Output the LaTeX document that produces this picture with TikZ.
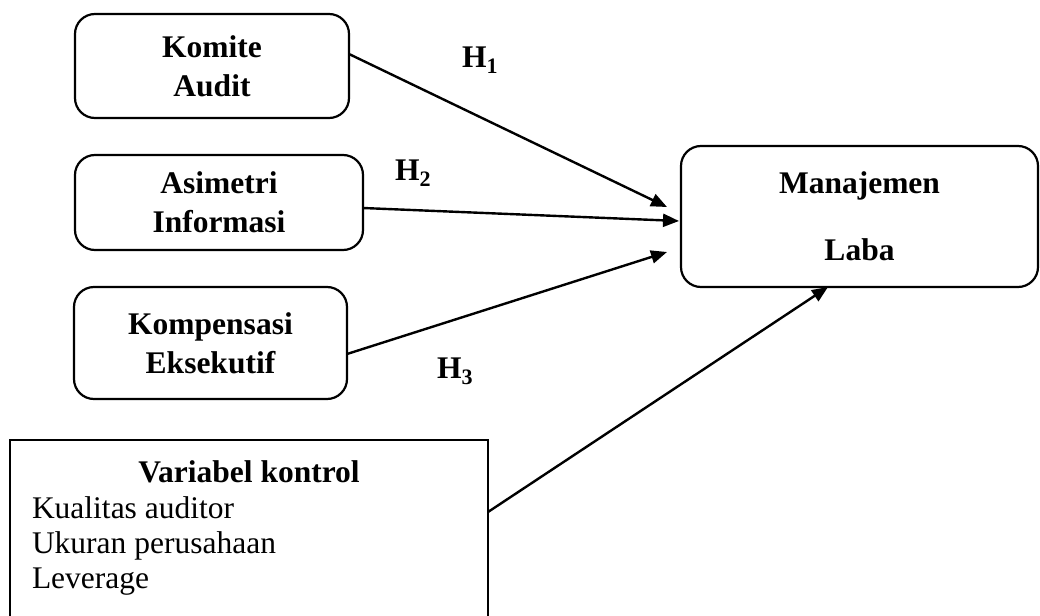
\documentclass[tikz,border=0pt]{standalone}
\usepackage{fontspec}
\setmainfont{Liberation Serif}
\usetikzlibrary{arrows.meta}
\begin{document}
\begin{tikzpicture}[x=1pt,y=-1pt,
  every node/.style={inner sep=0pt, outer sep=0pt},
  rbox/.style={draw, line width=2.2pt, rounded corners=20pt, align=center,
    font=\fontsize{31.5}{39}\selectfont\bfseries},
  lbl/.style={font=\fontsize{31.5}{39}\selectfont\bfseries, anchor=base west},
  plain/.style={font=\fontsize{31.5}{35}\selectfont, anchor=base west},
  arr/.style={line width=2.4pt, -{Triangle[length=16pt,width=13pt]}}]
\useasboundingbox (0,0) rectangle (1040,615);

\node[rbox, minimum width=274pt, minimum height=104pt] (komite) at (212,66) {Komite\\Audit};
\node[rbox, minimum width=288pt, minimum height=95pt] (asim) at (219,202.5) {Asimetri\\Informasi};
\node[rbox, minimum width=273pt, minimum height=112pt] (komp) at (210.5,343) {Kompensasi\\Eksekutif};
\node[rbox, minimum width=357pt, minimum height=141pt] (mj) at (859.5,216.5) {Manajemen\\[28pt]Laba};
\node[draw, line width=2.2pt, minimum width=478pt, minimum height=177pt] (var) at (249,528.5) {};

\node[font=\fontsize{31.5}{39}\selectfont\bfseries, anchor=base] (vt) at (249,482) {Variabel kontrol};
\node[plain] (v1) at (32,518) {Kualitas auditor};
\node[plain] (v2) at (32,553) {Ukuran perusahaan};
\node[plain] (v3) at (32,588) {Leverage};

\node[lbl] (h1) at (462,68) {H\textsubscript{1}};
\node[lbl] (h2) at (395,180) {H\textsubscript{2}};
\node[lbl] (h3) at (437,378) {H\textsubscript{3}};

\draw[arr] ([yshift=12pt]komite.east) -- ([xshift=-14pt,yshift=9.5pt]mj.west);
\draw[arr] ([yshift=-5.5pt]asim.east) -- ([xshift=-2pt,yshift=-4.5pt]mj.west);
\draw[arr] ([yshift=-11pt]komp.east) -- ([xshift=-14pt,yshift=-35.5pt]mj.west);
\draw[arr] ([yshift=16.5pt]var.east) -- ([xshift=-31.5pt]mj.south);
\end{tikzpicture}
\end{document}
